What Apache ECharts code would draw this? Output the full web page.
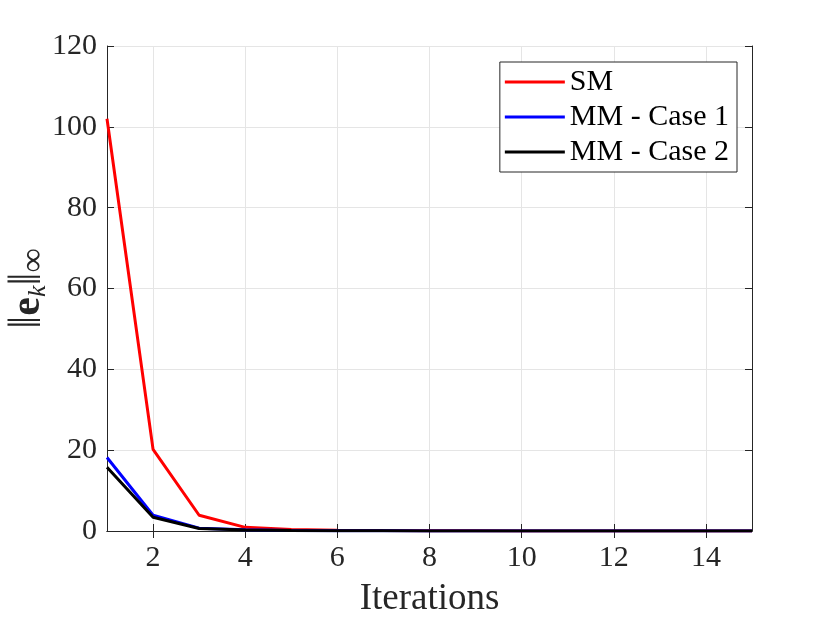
<!DOCTYPE html>
<html lang="en">
<head>
    <meta charset="UTF-8">
    <title>Error norm vs iterations</title>
    <style>
        html, body {
            margin: 0;
            padding: 0;
            background: #ffffff;
        }
        #chart {
            width: 830px;
            height: 623px;
        }
    </style>
    <script src="https://cdn.jsdelivr.net/npm/echarts@6/dist/echarts.min.js"></script>
</head>
<body>
    <div id="chart"></div>
    <script>
        // iteration numbers
        const iterations = ['1', '2', '3', '4', '5', '6', '7', '8', '9', '10', '11', '12', '13', '14', '15'];
        // values
        const smValues = [102, 20.2, 3.9, 0.9, 0.35, 0.18, 0.1, 0.06, 0.04, 0.03, 0.02, 0.02, 0.01, 0.01, 0.01];
        const mmCase1Values = [18.2, 3.9, 0.7, 0.3, 0.15, 0.08, 0.05, 0.03, 0.02, 0.02, 0.01, 0.01, 0.01, 0.01, 0.01];
        const mmCase2Values = [15.8, 3.4, 0.6, 0.25, 0.12, 0.07, 0.04, 0.03, 0.02, 0.01, 0.01, 0.01, 0.01, 0.01, 0.01];
        const yTicks = { min: 0, max: 120, step: 20 };

        const axisColor = '#262626';
        const fontFamily = "'Liberation Serif', 'DejaVu Serif', serif";

        // show every second category (2, 4, ... 14)
        const evenOnly = function (index) {
            return index % 2 === 1;
        };

        const chart = echarts.init(document.getElementById('chart'));
        chart.setOption({
            animation: false,
            backgroundColor: '#ffffff',
            textStyle: { fontFamily: fontFamily },
            grid: {
                left: 107,
                right: 78,
                top: 46,
                bottom: 92,
                containLabel: false,
                outerBoundsMode: 'none'
            },
            legend: {
                orient: 'vertical',
                right: 93,
                top: 62,
                backgroundColor: '#ffffff',
                borderColor: axisColor,
                borderWidth: 1,
                borderRadius: 0,
                padding: [5, 8, 5, 5],
                itemGap: 5,
                itemWidth: 60,
                itemHeight: 3,
                icon: 'rect',
                textStyle: {
                    fontFamily: fontFamily,
                    fontSize: 30,
                    color: '#000000'
                },
                data: ['SM', 'MM - Case 1', 'MM - Case 2']
            },
            xAxis: [
                {
                    type: 'category',
                    data: iterations,
                    boundaryGap: false,
                    name: 'Iterations',
                    nameLocation: 'middle',
                    nameGap: 50,
                    nameMoveOverlap: false,
                    nameTextStyle: { fontSize: 37, color: axisColor, fontFamily: fontFamily },
                    axisLine: { lineStyle: { color: axisColor, width: 1 } },
                    axisTick: { inside: true, length: 7, interval: evenOnly, lineStyle: { color: axisColor } },
                    axisLabel: { interval: evenOnly, fontSize: 30, color: axisColor, margin: 12, fontFamily: fontFamily },
                    splitLine: { show: true, interval: evenOnly, lineStyle: { color: '#e5e5e5', width: 1 } }
                },
                {
                    type: 'category',
                    data: iterations,
                    boundaryGap: false,
                    position: 'top',
                    axisLine: { lineStyle: { color: axisColor, width: 1 } },
                    axisTick: { inside: true, length: 7, interval: evenOnly, lineStyle: { color: axisColor } },
                    axisLabel: { show: false },
                    splitLine: { show: false }
                }
            ],
            yAxis: [
                {
                    type: 'value',
                    min: yTicks.min,
                    max: yTicks.max,
                    interval: yTicks.step,
                    name: '{n|‖}{b|e}{s|k}{n|‖}{s2|∞}',
                    nameLocation: 'middle',
                    nameGap: 56,
                    nameRotate: 90,
                    nameMoveOverlap: false,
                    nameTextStyle: {
                        color: axisColor,
                        lineHeight: 46,
                        rich: {
                            n: { fontSize: 46, lineHeight: 46, fontFamily: fontFamily, color: axisColor },
                            b: { fontSize: 42, lineHeight: 46, fontWeight: 'bold', fontFamily: fontFamily, color: axisColor },
                            s: { fontSize: 26, lineHeight: 46, fontStyle: 'italic', fontFamily: fontFamily, color: axisColor, verticalAlign: 'bottom', padding: [18, 0, 0, 0] },
                            s2: { fontSize: 34, lineHeight: 46, fontFamily: fontFamily, color: axisColor, verticalAlign: 'bottom', padding: [14, 0, 0, 0] }
                        }
                    },
                    axisLine: { show: true, lineStyle: { color: axisColor, width: 1 } },
                    axisTick: { show: true, inside: true, length: 7, lineStyle: { color: axisColor } },
                    axisLabel: { fontSize: 30, color: axisColor, margin: 10, fontFamily: fontFamily },
                    splitLine: { show: true, lineStyle: { color: '#e5e5e5', width: 1 } }
                },
                {
                    type: 'value',
                    min: yTicks.min,
                    max: yTicks.max,
                    interval: yTicks.step,
                    position: 'right',
                    axisLine: { show: true, lineStyle: { color: axisColor, width: 1 } },
                    axisTick: { show: true, inside: true, length: 7, lineStyle: { color: axisColor } },
                    axisLabel: { show: false },
                    splitLine: { show: false }
                }
            ],
            series: [
                {
                    name: 'SM',
                    type: 'line',
                    data: smValues,
                    symbol: 'none',
                    itemStyle: { color: '#ff0000' },
                    lineStyle: { color: '#ff0000', width: 3 },
                    z: 3
                },
                {
                    name: 'MM - Case 1',
                    type: 'line',
                    data: mmCase1Values,
                    symbol: 'none',
                    itemStyle: { color: '#0000ff' },
                    lineStyle: { color: '#0000ff', width: 3 },
                    z: 4
                },
                {
                    name: 'MM - Case 2',
                    type: 'line',
                    data: mmCase2Values,
                    symbol: 'none',
                    itemStyle: { color: '#000000' },
                    lineStyle: { color: '#000000', width: 3 },
                    z: 5
                }
            ]
        });
    </script>
</body>
</html>
